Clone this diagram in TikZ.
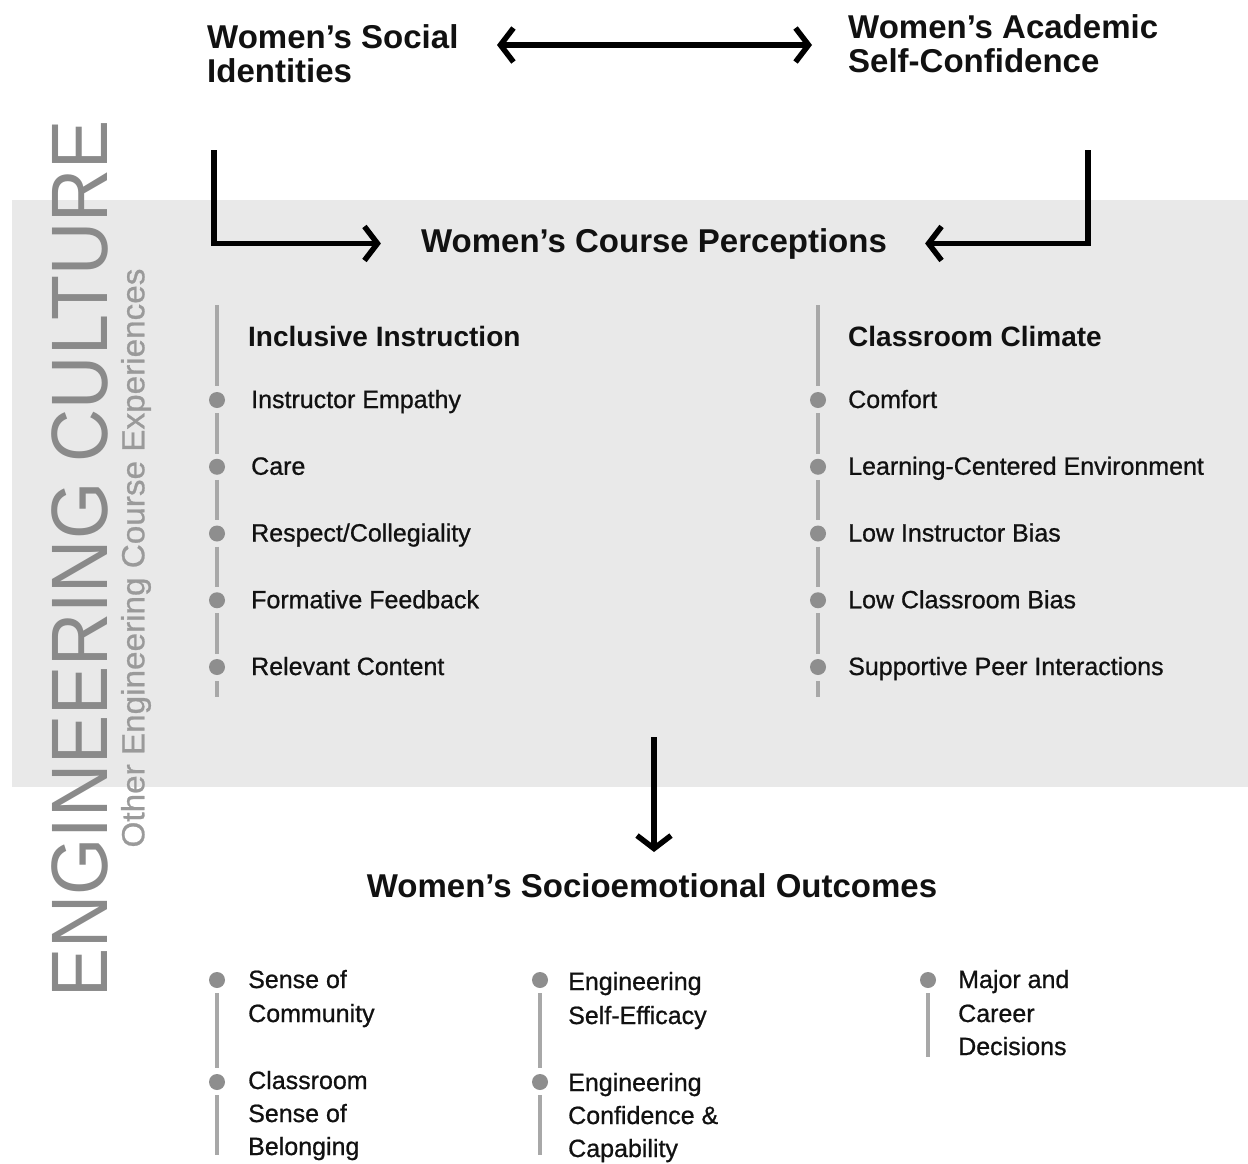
\documentclass[tikz,border=0pt]{standalone}
\usepackage{fontspec}
\setmainfont{Liberation Sans}
\newfontfamily\medfont{Liberation Sans}[FakeBold=0.8]
\usetikzlibrary{arrows.meta}
\definecolor{band}{HTML}{E9E9E9}
\definecolor{linegray}{HTML}{A8A8A8}
\definecolor{dotgray}{HTML}{8E8E8E}
\definecolor{culture}{HTML}{8A8A8A}
\definecolor{other}{HTML}{9A9A9A}
\definecolor{ink}{HTML}{111111}
\begin{document}
\begin{tikzpicture}[x=1pt,y=-1pt,
  head/.style={font=\bfseries\fontsize{33}{34}\selectfont, text=ink, anchor=base west, inner sep=0},
  sub/.style={font=\bfseries\fontsize{28}{30}\selectfont, text=ink, anchor=base west, inner sep=0},
  item/.style={font=\medfont\fontsize{25}{33}\selectfont, text=ink, anchor=base west, inner sep=0},
  dot/.style={circle, fill=dotgray, minimum size=16pt, inner sep=0},
  rail/.style={draw=linegray, line width=4.5pt},
  bigarrow/.style={line width=5.5pt, -{Straight Barb[length=13pt,width=34pt]}},
  dblarrow/.style={line width=5.5pt, {Straight Barb[length=13pt,width=34pt]}-{Straight Barb[length=13pt,width=34pt]}},
]
\useasboundingbox (0,0) rectangle (1248,1163);
\fill[band] (12,200) rectangle (1248,787);

% vertical side texts
\node[rotate=90, inner sep=0, text=culture, font=\fontsize{80}{80}\selectfont] (eng) at (80,559) {\scalebox{0.92}[1]{ENGINEERING CULTURE}};
\node[rotate=90, inner sep=0, text=other, font=\medfont\fontsize{32}{32}\selectfont] (oth) at (136,558) {\scalebox{1.04}[1]{Other Engineering Course Experiences}};

% top headings
\node[head] (soc1) at (207,48) {Women’s Social};
\node[head] (soc2) at (207,82) {Identities};
\node[head] (acad1) at (848,38) {Women’s Academic};
\node[head] (acad2) at (848,72) {Self-Confidence};
\node[head, anchor=base] (perc) at (654,252) {Women’s Course Perceptions};
\node[head, anchor=base] (outc) at (652,897) {Women’s Socioemotional Outcomes};

% arrows
\coordinate (dl) at (497,45);
\coordinate (dr) at (812,45);
\draw[dblarrow] (dl) -- (dr);
\coordinate (ls) at (214,150);
\draw[bigarrow] (ls) |- ([xshift=-40pt]perc.west);
\coordinate (rs) at (1088,150);
\draw[bigarrow] (rs) |- ([xshift=38pt]perc.east);
\coordinate (ds) at (654,737);
\coordinate (de) at (654,852);
\draw[bigarrow] (ds) -- (de);

% subheadings
\node[sub] (incl) at (248,346) {Inclusive Instruction};
\node[sub] (clim) at (848,346) {Classroom Climate};

% left list
\foreach \t [count=\i] in {Instructor Empathy, Care, Respect/Collegiality, Formative Feedback, Relevant Content} {
  \node[dot] (ld\i) at (217,{400+66.75*(\i-1)}) {};
  \node[item] (lt\i) at (251,{408+66.75*(\i-1)}) {\t};
}
% right list
\foreach \t [count=\i] in {Comfort, Learning-Centered Environment, Low Instructor Bias, Low Classroom Bias, Supportive Peer Interactions} {
  \node[dot] (rd\i) at (818,{400+66.75*(\i-1)}) {};
  \node[item] (rt\i) at (848,{408+66.75*(\i-1)}) {\t};
}
\coordinate (ltop) at (217,305);
\coordinate (lbot) at (217,697);
\coordinate (rtop) at (818,305);
\coordinate (rbot) at (818,697);
\draw[rail] (ltop) -- ([yshift=6pt]ld1.north);
\draw[rail] (rtop) -- ([yshift=6pt]rd1.north);
\foreach \i/\j in {1/2,2/3,3/4,4/5} {
  \draw[rail] ([yshift=-5pt]ld\i.south) -- ([yshift=5pt]ld\j.north);
  \draw[rail] ([yshift=-5pt]rd\i.south) -- ([yshift=5pt]rd\j.north);
}
\draw[rail] ([yshift=-6pt]ld5.south) -- (lbot);
\draw[rail] ([yshift=-6pt]rd5.south) -- (rbot);

% bottom outcomes
\node[dot] (b1) at (217,980) {};
\node[dot] (b2) at (217,1082) {};
\node[dot] (b3) at (540,980) {};
\node[dot] (b4) at (540,1082) {};
\node[dot] (b5) at (928,980) {};
\coordinate (b1e) at (217,1068);
\coordinate (b2e) at (217,1155);
\coordinate (b3e) at (540,1068);
\coordinate (b4e) at (540,1155);
\coordinate (b5e) at (928,1057);
\foreach \i in {1,...,5} {
  \draw[rail] ([yshift=-5pt]b\i.south) -- (b\i e);
}
\node[item] (o1a) at (248,988) {Sense of};
\node[item] (o1b) at (248,1022) {Community};
\node[item] (o2a) at (248,1089) {Classroom};
\node[item] (o2b) at (248,1122) {Sense of};
\node[item] (o2c) at (248,1155) {Belonging};
\node[item] (o3a) at (568,990) {Engineering};
\node[item] (o3b) at (568,1024) {Self-Efficacy};
\node[item] (o4a) at (568,1091) {Engineering};
\node[item] (o4b) at (568,1124) {Confidence \&};
\node[item] (o4c) at (568,1157) {Capability};
\node[item] (o5a) at (958,988) {Major and};
\node[item] (o5b) at (958,1022) {Career};
\node[item] (o5c) at (958,1055) {Decisions};
\end{tikzpicture}
\end{document}
